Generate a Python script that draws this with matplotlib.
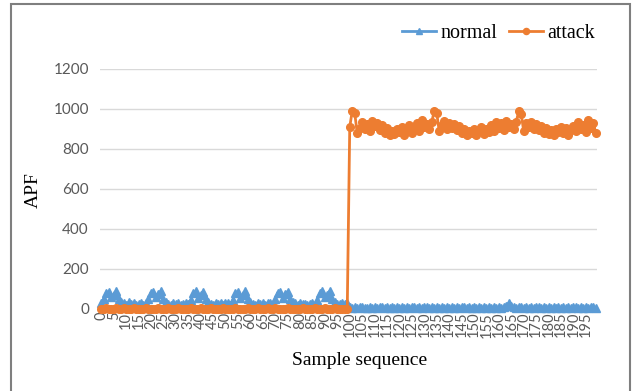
import matplotlib
matplotlib.use("Agg")
import matplotlib.pyplot as plt
from matplotlib.patches import Rectangle

# sample index 0..199
samples = list(range(200))

# APF of normal traffic
normal = [
    28, 50, 80, 86, 58, 72, 88, 52, 36, 28, 22, 33, 24, 30, 20, 26, 31,
    22, 30, 48, 82, 85, 58, 74, 90, 50, 34, 26, 21, 31, 25, 29, 20, 27,
    32, 24, 44, 78, 88, 55, 68, 86, 48, 36, 27, 22, 32, 23, 30, 21, 28,
    30, 22, 46, 80, 87, 57, 71, 89, 50, 34, 25, 20, 31, 26, 28, 19, 30,
    31, 23, 48, 82, 84, 55, 73, 87, 49, 36, 28, 21, 32, 24, 27, 20, 26,
    30, 22, 45, 79, 89, 58, 70, 90, 52, 35, 27, 23, 30, 25, 28,
    10, 6, 9, 4, 8, 11, 5, 7, 10, 6,
    9, 5, 8, 12, 6, 9, 4, 10, 7, 8,
    5, 11, 7, 9, 4, 8, 10, 6, 9, 5,
    8, 12, 6, 9, 5, 10, 7, 8, 4, 11,
    6, 9, 7, 10, 5, 8, 11, 6, 9, 4,
    10, 7, 8, 5, 11, 6, 9, 7, 10, 5,
    8, 6, 10, 14, 30, 16, 9, 6, 8, 11,
    5, 9, 7, 10, 4, 8, 12, 6, 9, 5,
    10, 7, 8, 5, 11, 6, 9, 4, 10, 7,
    8, 12, 5, 9, 6, 10, 7, 11, 8, 6,
]

# APF under attack
attack = [
    2, 0, 3, 1, 0, 2, 4, 1, 0, 3,
    1, 2, 0, 3, 1, 0, 2, 1, 3, 0,
    2, 1, 0, 3, 2, 0, 1, 4, 0, 2,
    1, 3, 0, 2, 1, 0, 3, 1, 2, 0,
    3, 1, 0, 2, 4, 1, 0, 2, 1, 3,
    0, 2, 1, 0, 3, 1, 2, 0, 1, 3,
    2, 0, 1, 3, 0, 2, 1, 4, 0, 1,
    3, 0, 2, 1, 0, 3, 2, 0, 1, 2,
    0, 3, 1, 2, 0, 1, 3, 0, 2, 1,
    4, 0, 2, 1, 3, 0, 1, 2, 0, 1,
    910, 990, 980, 880, 905, 935, 900, 925, 890, 940,
    915, 930, 895, 920, 880, 905, 870, 890, 875, 900,
    885, 910, 870, 895, 920, 880, 905, 930, 890, 945,
    910, 925, 900, 935, 990, 980, 890, 920, 940, 900,
    930, 905, 925, 895, 915, 880, 900, 870, 890, 880,
    900, 870, 895, 910, 875, 900, 885, 920, 890, 935,
    905, 930, 895, 940, 910, 925, 900, 935, 990, 975,
    890, 930, 910, 935, 900, 925, 895, 915, 880, 905,
    875, 895, 870, 900, 885, 910, 880, 905, 870, 895,
    915, 890, 935, 900, 920, 885, 945, 905, 930, 880,
]

x_labels = [str(i) for i in range(0, 200, 5)]
y_ticks = [0, 200, 400, 600, 800, 1000, 1200]

blue = '#5B9BD5'
orange = '#ED7D31'
grey = '#595959'
serif = 'Liberation Serif'

fig = plt.figure(figsize=(6.39, 3.91), dpi=100)
ax = fig.add_axes([100/639, 1-309/391, 497/639, 240/391])

ax.plot(samples, normal, color=blue, lw=2, marker='^', ms=5.5, label='normal', clip_on=False, zorder=3)
ax.plot(samples, attack, color=orange, lw=2, marker='o', ms=5.5, label='attack', clip_on=False, zorder=4)

ax.set_xlim(-0.5, 199.5)
ax.set_ylim(0, 1200)
ax.set_yticks(y_ticks)
ax.set_yticklabels([str(v) for v in y_ticks], fontfamily='Lato', fontsize=11, color=grey)
ax.set_xticks(range(0, 200, 5))
ax.set_xticklabels(x_labels, rotation=90, fontfamily='Lato', fontsize=10.5, color=grey, va='top', ha='center')
ax.tick_params(axis='x', length=0, pad=2)
ax.tick_params(axis='y', length=0, pad=8)

ax.grid(axis='y', color='#D9D9D9', lw=1)
ax.set_axisbelow(True)
for s in ['top', 'right', 'left']:
    ax.spines[s].set_visible(False)
ax.spines['bottom'].set_color('#D9D9D9')

ax.set_xlabel('Sample sequence', fontfamily=serif, fontsize=14)
ax.xaxis.set_label_coords((360 - 100) / 497, -(360 - 309) / 240, transform=ax.transAxes)
ax.xaxis.label.set_va('center')
ax.set_ylabel('APF', fontfamily=serif, fontsize=14)
ax.yaxis.set_label_coords(-(100 - 33) / 497, (309 - 190) / 240, transform=ax.transAxes)
ax.yaxis.label.set_va('center')

leg = fig.legend(loc='center right', bbox_to_anchor=(613/639, 1-33/391), ncol=2, frameon=False,
                 prop={'family': serif, 'size': 14.5}, handlelength=1.7, columnspacing=0.6,
                 handletextpad=0.2, markerscale=0.8)

# outer chart frame
fig.patches.append(Rectangle((11/639, -0.05), 619/639, 1.05 - 4/391, transform=fig.transFigure,
                             fill=False, edgecolor='#7F7F7F', lw=1.5))

fig.savefig('out.png', dpi=100)
